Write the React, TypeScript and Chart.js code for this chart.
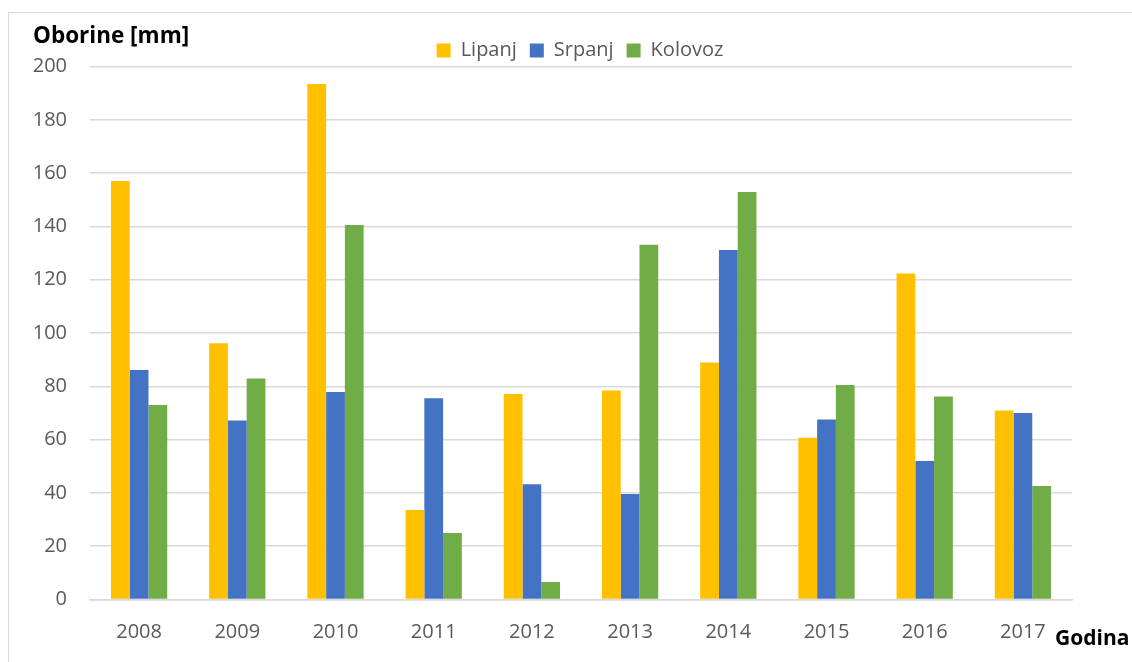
import React, { useEffect, useRef } from "react";
import { Chart, registerables } from "chart.js";

Chart.register(...registerables);

const years = ["2008", "2009", "2010", "2011", "2012", "2013", "2014", "2015", "2016", "2017"];
const lipanj = [157, 96.2, 193.4, 33.6, 77.1, 78.4, 88.9, 60.7, 122.3, 70.9];
const srpanj = [86.1, 67.2, 77.9, 75.5, 43.2, 39.6, 131.1, 67.5, 52, 70];
const kolovoz = [73, 82.9, 140.5, 25, 6.6, 133.1, 152.9, 80.5, 76.2, 42.6];
const yTitle = "Oborine [mm]";
const xTitle = "Godina";

const FONT = "'Open Sans', 'Noto Sans', sans-serif";

const decor = {
  id: "decor",
  beforeDraw(chart: any) {
    const ctx = chart.ctx;
    ctx.save();
    ctx.strokeStyle = "#d9d9d9";
    ctx.lineWidth = 1;
    ctx.strokeRect(8.5, 12.5, 3000, 3000);
    ctx.restore();
    const lg = chart.legend;
    if (lg && !lg._shifted) {
      lg.left = chart.chartArea.left - 2;
      lg.top += 4;
      lg.bottom += 4;
      lg._shifted = true;
    }
  },
  afterDraw(chart: any) {
    const ctx = chart.ctx;
    ctx.save();
    ctx.fillStyle = "#000000";
    ctx.textBaseline = "alphabetic";
    ctx.textAlign = "left";
    ctx.font = `bold 22.5px ${FONT}`;
    ctx.fillText(yTitle, 33, 43);
    ctx.font = `bold 21px ${FONT}`;
    ctx.fillText(xTitle, 1055, 645);
    ctx.restore();
  },
};

export default function App() {
  const ref = useRef<HTMLCanvasElement>(null);
  useEffect(() => {
    document.body.style.margin = "0";
    const chart = new Chart(ref.current!, {
      type: "bar",
      data: {
        labels: years,
        datasets: [
          { label: "Lipanj", data: lipanj, backgroundColor: "#FFC000" },
          { label: "Srpanj", data: srpanj, backgroundColor: "#4472C4" },
          { label: "Kolovoz", data: kolovoz, backgroundColor: "#70AD47" },
        ],
      },
      options: {
        responsive: false,
        animation: false,
        devicePixelRatio: 1,
        layout: { padding: { left: 8, right: 60, top: 23.5, bottom: 0 } },
        datasets: { bar: { categoryPercentage: 0.573, barPercentage: 1 } },
        plugins: {
          legend: {
            position: "top",
            labels: {
              boxWidth: 14,
              boxHeight: 14,
              padding: 13,
              color: "#595959",
              font: { family: FONT, size: 20 },
            },
          },
          tooltip: { enabled: false },
        },
        scales: {
          x: {
            grid: { display: false },
            border: { display: true, color: "#d9d9d9", width: 1.5 },
            ticks: { color: "#595959", font: { family: FONT, size: 20 }, padding: 13 },
            afterFit: (s: any) => { s.height = 62.5; },
          },
          y: {
            min: 0,
            max: 200,
            ticks: { stepSize: 20, color: "#595959", font: { family: FONT, size: 20 }, padding: 23 },
            grid: { color: "#d9d9d9", lineWidth: 1.5, drawTicks: false },
            border: { display: false },
            afterFit: (s: any) => { s.width = 82; },
          },
        },
      },
      plugins: [decor],
    } as any);
    return () => chart.destroy();
  }, []);
  return (
    <div style={{ position: "fixed", left: 0, top: 0, width: 1132, height: 662, background: "#fff" }}>
      <canvas ref={ref} width={1132} height={662} />
    </div>
  );
}
